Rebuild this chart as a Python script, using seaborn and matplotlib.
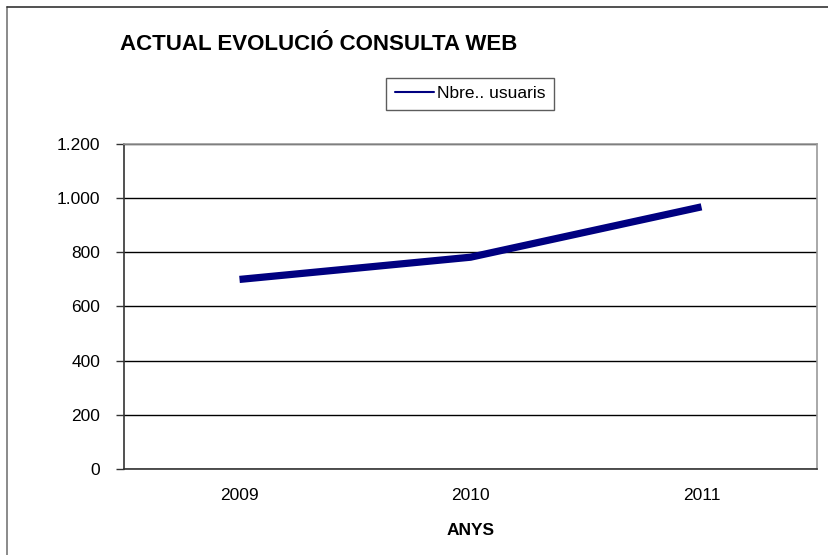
import pandas as pd
import matplotlib.pyplot as plt
import matplotlib.ticker as mticker
from matplotlib.lines import Line2D
import seaborn as sns

# Data
years = ["2009", "2010", "2011"]
users = [700, 782, 968]
series_name = "Nbre.. usuaris"
y_ticks = [0, 200, 400, 600, 800, 1000, 1200]

df = pd.DataFrame({"Any": years, series_name: users})

sns.set_style("white")
plt.rcParams["font.family"] = ["Liberation Sans", "DejaVu Sans"]
plt.rcParams["text.color"] = "black"
plt.rcParams["axes.labelcolor"] = "black"
plt.rcParams["xtick.labelcolor"] = "black"
plt.rcParams["ytick.labelcolor"] = "black"

fig = plt.figure(figsize=(8.29, 5.55), dpi=100)
ax = fig.add_axes([0.1496, 0.155, 0.8359, 0.5855])

sns.lineplot(data=df, x="Any", y=series_name, ax=ax, color="#000080",
             linewidth=5.2, solid_capstyle="butt", label=series_name, legend=False)

# y axis
ax.set_ylim(0, 1200)
ax.set_yticks(y_ticks)
ax.yaxis.set_major_formatter(mticker.FuncFormatter(lambda v, p: f"{int(v):,}".replace(",", ".")))
ax.grid(axis="y", color="black", linewidth=1)
ax.set_axisbelow(True)

# x axis: categories with ticks between them
ax.set_xlim(-0.5, 2.5)
ax.set_xticks(range(len(years)))
ax.set_xticklabels(years)
ax.set_xticks([-0.5, 0.5, 1.5, 2.5], minor=True)
ax.tick_params(axis="x", which="major", length=0, pad=14, labelsize=12.5)
ax.tick_params(axis="x", which="minor", length=5, width=1, color="#333333", direction="out")
ax.tick_params(axis="y", length=6, width=1, color="#333333", direction="out", left=True, pad=11, labelsize=12.5)

ax.set_xlabel("ANYS", fontsize=12.5, fontweight="bold", labelpad=14)
ax.set_ylabel("")

for side in ["left", "bottom"]:
    ax.spines[side].set_color("#333333")
    ax.spines[side].set_linewidth(1.2)
for side in ["top", "right"]:
    ax.spines[side].set_color("#999999")
    ax.spines[side].set_linewidth(1.2)

# legend
handle = Line2D([], [], color="#000080", linewidth=1.5)
fig.legend([handle], [series_name], loc="center", bbox_to_anchor=(0.567, 0.831),
           fontsize=12.5, frameon=True, fancybox=False, edgecolor="#333333",
           handlelength=2.3, handletextpad=0.15, borderpad=0.5, borderaxespad=0)

# title
fig.text(0.145, 0.91, "ACTUAL EVOLUCIÓ CONSULTA WEB", fontsize=16,
         fontweight="bold", va="baseline", ha="left")

# chart frame (left and top edges)
fig.add_artist(Line2D([0.0084, 0.0084], [0, 0.9874], transform=fig.transFigure,
                      color="#777777", linewidth=1.2))
fig.add_artist(Line2D([0.0084, 1], [0.9874, 0.9874], transform=fig.transFigure,
                      color="#333333", linewidth=1.2))

fig.savefig("out.png", dpi=100)
